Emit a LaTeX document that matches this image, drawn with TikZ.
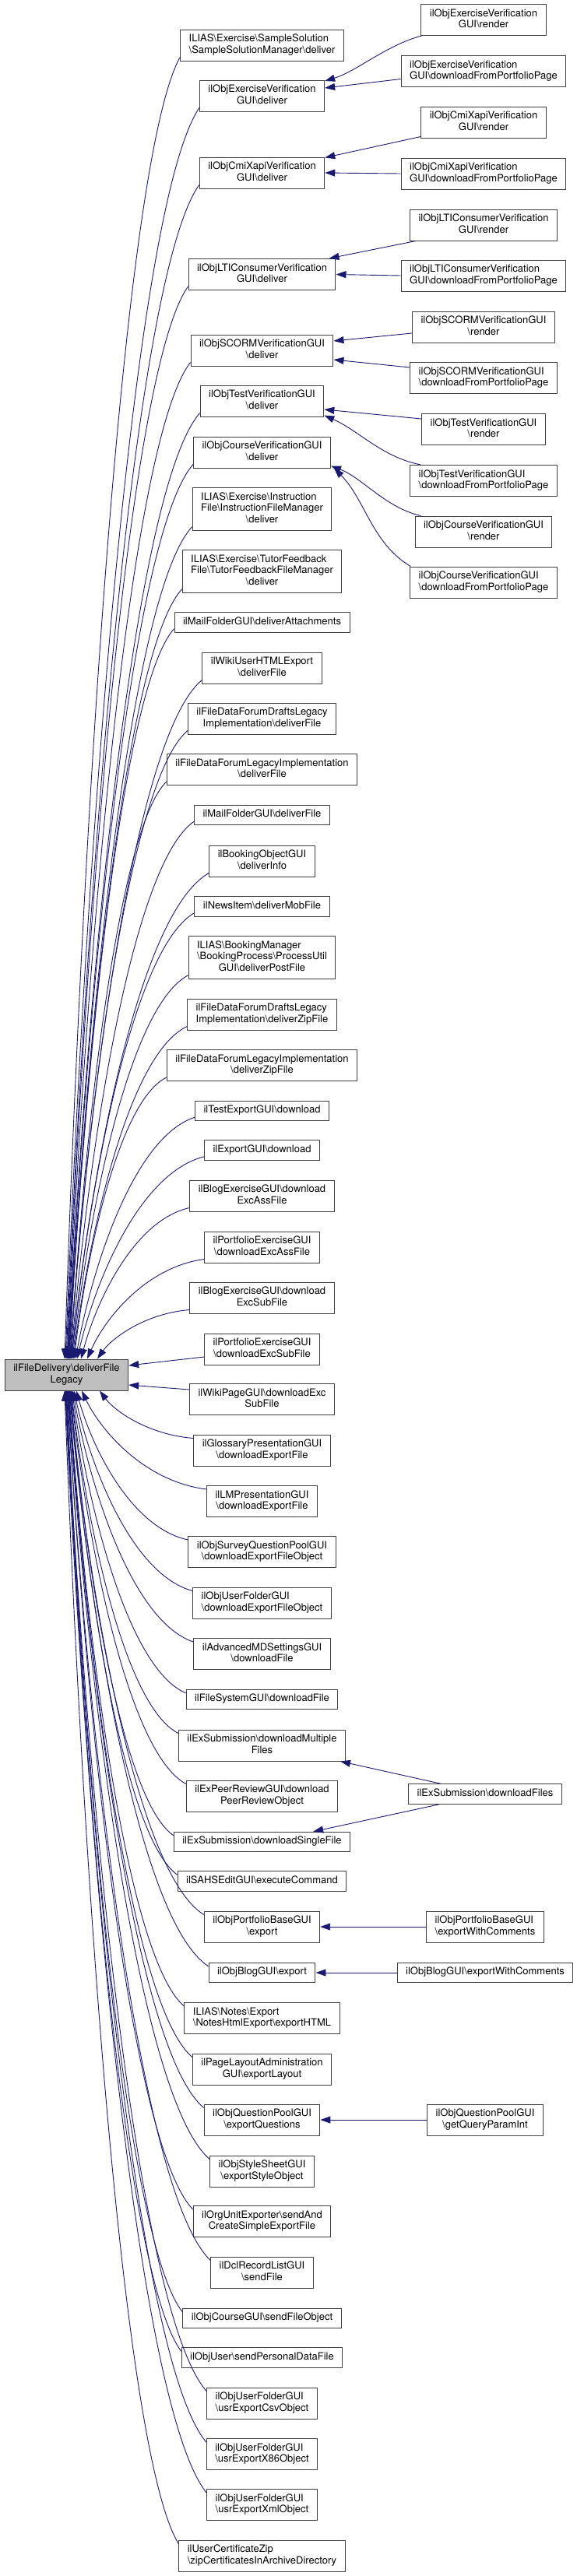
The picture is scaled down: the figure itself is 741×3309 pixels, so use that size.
\documentclass[tikz,border=0pt]{standalone}
\usepackage{fontspec}
\setmainfont{TeX Gyre Heros}
\usetikzlibrary{arrows.meta,calc}

\definecolor{edgeblue}{HTML}{191970}
\definecolor{boxline}{HTML}{404040}
\definecolor{rootfill}{HTML}{BFBFBF}

\newcommand{\bsl}{\textbackslash}
\newcommand{\onel}[1]{\begin{tabular}{@{}c@{}}#1\end{tabular}}
\newcommand{\twol}[2]{\begin{tabular}{@{}l@{}}#1\\\multicolumn{1}{@{}c@{}}{#2}\end{tabular}}
\newcommand{\threel}[3]{\begin{tabular}{@{}l@{}}#1\\#2\\\multicolumn{1}{@{}c@{}}{#3}\end{tabular}}

\tikzset{
  fnbox/.style={draw=boxline, line width=1pt, fill=white, inner xsep=11pt, inner ysep=5.5pt,
    font=\fontsize{13pt}{14.5pt}\selectfont},
  rootbox/.style={fnbox, fill=rootfill},
  callarrow/.style={draw=edgeblue, line width=0.9pt, -{Triangle[length=13pt,width=9pt]}}
}

% edge from a caller box down (or up) to the root box
\newcommand{\calledge}[2]{%
  \draw[callarrow] let \p1=(#1), \p2=(#2) in
    (\p1) .. controls ($(\p1)+({-0.5*(\x1-\x2)},{-0.08*(\y1-\y2)})$)
    and ($(\p2)+({0.15*(\x1-\x2)},{0.4*(\y1-\y2)})$) .. (\p2);}

\begin{document}
\begin{tikzpicture}[x=1pt,y=-1pt]
            \useasboundingbox (0,0) rectangle (741,3309);
            {

            % Marking root node
            \node[rootbox] (root) at (85.5,1766) {\twol{ilFileDelivery\bsl deliverFile}{Legacy}};%

            % Marking caller nodes, middle column
            \node[fnbox] (ss) at (336.5,58) {\twol{ILIAS\bsl Exercise\bsl SampleSolution}{\bsl SampleSolutionManager\bsl deliver}};%
            \node[fnbox] (exv) at (336.5,123) {\twol{ilObjExerciseVerification}{GUI\bsl deliver}};%
            \node[fnbox] (cmi) at (336.5,222) {\twol{ilObjCmiXapiVerification}{GUI\bsl deliver}};%
            \node[fnbox] (lti) at (336.5,352.5) {\twol{ilObjLTIConsumerVerification}{GUI\bsl deliver}};%
            \node[fnbox] (scorm) at (336.5,450) {\twol{ilObjSCORMVerificationGUI}{\bsl deliver}};%
            \node[fnbox] (test) at (336.5,515) {\twol{ilObjTestVerificationGUI}{\bsl deliver}};%
            \node[fnbox] (crs) at (336.5,581) {\twol{ilObjCourseVerificationGUI}{\bsl deliver}};%
            \node[fnbox] (instr) at (336.5,654) {\threel{ILIAS\bsl Exercise\bsl Instruction}{File\bsl InstructionFileManager}{\bsl deliver}};%
            \node[fnbox] (tutor) at (336.5,734) {\threel{ILIAS\bsl Exercise\bsl TutorFeedback}{File\bsl TutorFeedbackFileManager}{\bsl deliver}};%
            \node[fnbox] (mailatt) at (336.5,799.5) {\onel{ilMailFolderGUI\bsl deliverAttachments}};%
            \node[fnbox] (wikiexp) at (336.5,858) {\twol{ilWikiUserHTMLExport}{\bsl deliverFile}};%
            \node[fnbox] (fdraft) at (336.5,923) {\twol{ilFileDataForumDraftsLegacy}{Implementation\bsl deliverFile}};%
            \node[fnbox] (fleg) at (336.5,988.5) {\twol{ilFileDataForumLegacyImplementation}{\bsl deliverFile}};%
            \node[fnbox] (mailfile) at (336.5,1047) {\onel{ilMailFolderGUI\bsl deliverFile}};%
            \node[fnbox] (bookobj) at (336.5,1106) {\twol{ilBookingObjectGUI}{\bsl deliverInfo}};%
            \node[fnbox] (news) at (336.5,1164.5) {\onel{ilNewsItem\bsl deliverMobFile}};%
            \node[fnbox] (bookpost) at (336.5,1230) {\threel{ILIAS\bsl BookingManager}{\bsl BookingProcess\bsl ProcessUtil}{GUI\bsl deliverPostFile}};%
            \node[fnbox] (fdraftzip) at (336.5,1303) {\twol{ilFileDataForumDraftsLegacy}{Implementation\bsl deliverZipFile}};%
            \node[fnbox] (flegzip) at (336.5,1368.5) {\twol{ilFileDataForumLegacyImplementation}{\bsl deliverZipFile}};%
            \node[fnbox] (testexp) at (336.5,1427) {\onel{ilTestExportGUI\bsl download}};%
            \node[fnbox] (expgui) at (336.5,1477.5) {\onel{ilExportGUI\bsl download}};%
            \node[fnbox] (blogass) at (336.5,1536) {\twol{ilBlogExerciseGUI\bsl download}{ExcAssFile}};%
            \node[fnbox] (portass) at (336.5,1602) {\twol{ilPortfolioExerciseGUI}{\bsl downloadExcAssFile}};%
            \node[fnbox] (blogsub) at (336.5,1667) {\twol{ilBlogExerciseGUI\bsl download}{ExcSubFile}};%
            \node[fnbox] (portsub) at (336.5,1733) {\twol{ilPortfolioExerciseGUI}{\bsl downloadExcSubFile}};%
            \node[fnbox] (wikipage) at (336.5,1797.5) {\twol{ilWikiPageGUI\bsl downloadExc}{SubFile}};%
            \node[fnbox] (gloss) at (336.5,1863) {\twol{ilGlossaryPresentationGUI}{\bsl downloadExportFile}};%
            \node[fnbox] (lmpres) at (336.5,1928.5) {\twol{ilLMPresentationGUI}{\bsl downloadExportFile}};%
            \node[fnbox] (survey) at (336.5,1993.5) {\twol{ilObjSurveyQuestionPoolGUI}{\bsl downloadExportFileObject}};%
            \node[fnbox] (ufexp) at (336.5,2059) {\twol{ilObjUserFolderGUI}{\bsl downloadExportFileObject}};%
            \node[fnbox] (advmd) at (336.5,2124.5) {\twol{ilAdvancedMDSettingsGUI}{\bsl downloadFile}};%
            \node[fnbox] (fsys) at (336.5,2183) {\onel{ilFileSystemGUI\bsl downloadFile}};%
            \node[fnbox] (exmulti) at (336.5,2242) {\twol{ilExSubmission\bsl downloadMultiple}{Files}};%
            \node[fnbox] (expeer) at (336.5,2307) {\twol{ilExPeerReviewGUI\bsl download}{PeerReviewObject}};%
            \node[fnbox] (exsingle) at (336.5,2366) {\onel{ilExSubmission\bsl downloadSingleFile}};%
            \node[fnbox] (sahs) at (336.5,2416.5) {\onel{ilSAHSEditGUI\bsl executeCommand}};%
            \node[fnbox] (portbase) at (336.5,2475) {\twol{ilObjPortfolioBaseGUI}{\bsl export}};%
            \node[fnbox] (blog) at (336.5,2534) {\onel{ilObjBlogGUI\bsl export}};%
            \node[fnbox] (notes) at (336.5,2592.5) {\twol{ILIAS\bsl Notes\bsl Export}{\bsl NotesHtmlExport\bsl exportHTML}};%
            \node[fnbox] (pagelay) at (336.5,2658) {\twol{ilPageLayoutAdministration}{GUI\bsl exportLayout}};%
            \node[fnbox] (qpool) at (336.5,2723) {\twol{ilObjQuestionPoolGUI}{\bsl exportQuestions}};%
            \node[fnbox] (style) at (336.5,2789) {\twol{ilObjStyleSheetGUI}{\bsl exportStyleObject}};%
            \node[fnbox] (orgunit) at (336.5,2853.5) {\twol{ilOrgUnitExporter\bsl sendAnd}{CreateSimpleExportFile}};%
            \node[fnbox] (dcl) at (336.5,2919) {\twol{ilDclRecordListGUI}{\bsl sendFile}};%
            \node[fnbox] (crsgui) at (336.5,2978) {\onel{ilObjCourseGUI\bsl sendFileObject}};%
            \node[fnbox] (user) at (336.5,3028.5) {\onel{ilObjUser\bsl sendPersonalDataFile}};%
            \node[fnbox] (csv) at (336.5,3087) {\twol{ilObjUserFolderGUI}{\bsl usrExportCsvObject}};%
            \node[fnbox] (x86) at (336.5,3152.5) {\twol{ilObjUserFolderGUI}{\bsl usrExportX86Object}};%
            \node[fnbox] (xml) at (336.5,3217.5) {\twol{ilObjUserFolderGUI}{\bsl usrExportXmlObject}};%
            \node[fnbox] (cert) at (336.5,3283) {\twol{ilUserCertificateZip}{\bsl zipCertificatesInArchiveDirectory}};%

            % Marking caller nodes, right column
            \node[fnbox] (exvr) at (621,25.5) {\twol{ilObjExerciseVerification}{GUI\bsl render}};%
            \node[fnbox] (exvd) at (621,91.5) {\twol{ilObjExerciseVerification}{GUI\bsl downloadFromPortfolioPage}};%
            \node[fnbox] (cmir) at (621,157) {\twol{ilObjCmiXapiVerification}{GUI\bsl render}};%
            \node[fnbox] (cmid) at (621,223) {\twol{ilObjCmiXapiVerification}{GUI\bsl downloadFromPortfolioPage}};%
            \node[fnbox] (ltir) at (621,289) {\twol{ilObjLTIConsumerVerification}{GUI\bsl render}};%
            \node[fnbox] (ltid) at (621,354) {\twol{ilObjLTIConsumerVerification}{GUI\bsl downloadFromPortfolioPage}};%
            \node[fnbox] (scormr) at (621,420) {\twol{ilObjSCORMVerificationGUI}{\bsl render}};%
            \node[fnbox] (scormd) at (621,485.5) {\twol{ilObjSCORMVerificationGUI}{\bsl downloadFromPortfolioPage}};%
            \node[fnbox] (testr) at (621,551.5) {\twol{ilObjTestVerificationGUI}{\bsl render}};%
            \node[fnbox] (testd) at (621,617.5) {\twol{ilObjTestVerificationGUI}{\bsl downloadFromPortfolioPage}};%
            \node[fnbox] (crsr) at (621,683) {\twol{ilObjCourseVerificationGUI}{\bsl render}};%
            \node[fnbox] (crsd) at (621,748) {\twol{ilObjCourseVerificationGUI}{\bsl downloadFromPortfolioPage}};%
            \node[fnbox] (exfiles) at (623,2304.5) {\onel{ilExSubmission\bsl downloadFiles}};%
            \node[fnbox] (portwc) at (623,2475) {\twol{ilObjPortfolioBaseGUI}{\bsl exportWithComments}};%
            \node[fnbox] (blogwc) at (623,2534) {\onel{ilObjBlogGUI\bsl exportWithComments}};%
            \node[fnbox] (qpparam) at (623,2723) {\twol{ilObjQuestionPoolGUI}{\bsl getQueryParamInt}};%

            % Drawing edges right column -> middle column
            \draw[callarrow] ([xshift=1pt]exvr.south west) .. controls +(-45,12) and +(40,-12) .. ([yshift=-1.5pt]exv.north east);%
            \draw[callarrow] ([yshift=-10pt]exvd.west) -- ([yshift=10pt]exv.east);%
            \draw[callarrow] ([yshift=2pt]cmir.south west) -- ([yshift=-1pt]cmi.north east);%
            \draw[callarrow] (cmid.west) -- (cmi.east);%
            \draw[callarrow] ([xshift=8pt]ltir.south west) -- ([xshift=-9pt]lti.north east);%
            \draw[callarrow] (ltid.west) -- (lti.east);%
            \draw[callarrow] ([yshift=-8pt]scormr.west) -- ([yshift=12pt]scorm.east);%
            \draw[callarrow] ([yshift=13.5pt]scormd.west) -- ([yshift=-12pt]scorm.east);%
            \draw[callarrow] ([yshift=13.5pt]testr.west) -- ([yshift=-11pt]test.east);%
            \draw[callarrow] ([xshift=14pt]testd.north west) .. controls +(-50,-10) and +(45,20) .. ([yshift=2pt]test.south east);%
            \draw[callarrow] ([xshift=8pt]crsr.north west) .. controls +(-45,-10) and +(40,15) .. ([yshift=3pt]crs.south east);%
            \draw[callarrow] ([xshift=1pt]crsd.north west) .. controls +(-50,-30) and +(40,40) .. ([xshift=4pt]crs.south east);%
            \draw[callarrow] ([xshift=42pt]exfiles.north west) -- ([xshift=-7pt]exmulti.south east);%
            \draw[callarrow] ([xshift=40pt]exfiles.south west) -- ([xshift=-48pt]exsingle.north east);%
            \draw[callarrow] (portwc.west) -- (portbase.east);%
            \draw[callarrow] (blogwc.west) -- (blog.east);%
            \draw[callarrow] (qpparam.west) -- (qpool.east);%

            % Drawing edges middle column -> root, from above
            \calledge{[yshift=5pt]ss.south west}{[xshift=-2.5pt]root.north}%
            \calledge{[yshift=5pt]exv.south west}{[xshift=-1.5pt]root.north}%
            \calledge{[yshift=5pt]cmi.south west}{[xshift=-0.5pt]root.north}%
            \calledge{[yshift=5pt]lti.south west}{[xshift=0.5pt]root.north}%
            \calledge{[yshift=5pt]scorm.south west}{[xshift=1pt]root.north}%
            \calledge{[yshift=5pt]test.south west}{[xshift=1.5pt]root.north}%
            \calledge{[yshift=5pt]crs.south west}{[xshift=2pt]root.north}%
            \calledge{[yshift=5pt]instr.south west}{[xshift=2.5pt]root.north}%
            \calledge{[yshift=5pt]tutor.south west}{[xshift=3pt]root.north}%
            \calledge{[yshift=5pt]mailatt.south west}{[xshift=3.5pt]root.north}%
            \calledge{[yshift=5pt]wikiexp.south west}{[xshift=4pt]root.north}%
            \calledge{[yshift=5pt]fdraft.south west}{[xshift=4.5pt]root.north}%
            \calledge{[yshift=5pt]fleg.south west}{[xshift=5pt]root.north}%
            \calledge{[yshift=5pt]mailfile.south west}{[xshift=5.5pt]root.north}%
            \calledge{[yshift=5pt]bookobj.south west}{[xshift=6pt]root.north}%
            \calledge{[yshift=5pt]news.south west}{[xshift=6.5pt]root.north}%
            \calledge{[yshift=5pt]bookpost.south west}{[xshift=7.5pt]root.north}%
            \calledge{[yshift=5pt]fdraftzip.south west}{[xshift=8.5pt]root.north}%
            \calledge{[yshift=5pt]flegzip.south west}{[xshift=9.5pt]root.north}%
            \calledge{[yshift=5pt]testexp.south west}{[xshift=11.5pt]root.north}%
            \calledge{[yshift=5pt]expgui.south west}{[xshift=13.5pt]root.north}%
            \calledge{[yshift=5pt]blogass.south west}{[xshift=18.5pt]root.north}%
            \calledge{[yshift=5pt]portass.south west}{[xshift=26.5pt]root.north}%
            \calledge{[yshift=5pt]blogsub.south west}{[xshift=39.5pt]root.north}%
            \draw[callarrow] ([yshift=-10pt]portsub.west) -- ([yshift=12pt]root.east);%

            % Drawing edges middle column -> root, from below
            \draw[callarrow] ([yshift=12.5pt]wikipage.west) -- ([yshift=-13pt]root.east);%
            \calledge{[yshift=-5pt]gloss.north west}{[xshift=42.5pt]root.south}%
            \calledge{[yshift=-5pt]lmpres.north west}{[xshift=19.5pt]root.south}%
            \calledge{[yshift=-5pt]survey.north west}{[xshift=12.5pt]root.south}%
            \calledge{[yshift=-5pt]ufexp.north west}{[xshift=9.5pt]root.south}%
            \calledge{[yshift=-5pt]advmd.north west}{[xshift=8pt]root.south}%
            \calledge{[yshift=-5pt]fsys.north west}{[xshift=7pt]root.south}%
            \calledge{[yshift=-5pt]exmulti.north west}{[xshift=6pt]root.south}%
            \calledge{[yshift=-5pt]expeer.north west}{[xshift=5.5pt]root.south}%
            \calledge{[yshift=-5pt]exsingle.north west}{[xshift=5pt]root.south}%
            \calledge{[yshift=-5pt]sahs.north west}{[xshift=4.5pt]root.south}%
            \calledge{[yshift=-5pt]portbase.north west}{[xshift=4pt]root.south}%
            \calledge{[yshift=-5pt]blog.north west}{[xshift=3.5pt]root.south}%
            \calledge{[yshift=-5pt]notes.north west}{[xshift=3pt]root.south}%
            \calledge{[yshift=-5pt]pagelay.north west}{[xshift=2.5pt]root.south}%
            \calledge{[yshift=-5pt]qpool.north west}{[xshift=2pt]root.south}%
            \calledge{[yshift=-5pt]style.north west}{[xshift=1.5pt]root.south}%
            \calledge{[yshift=-5pt]orgunit.north west}{[xshift=1pt]root.south}%
            \calledge{[yshift=-5pt]dcl.north west}{[xshift=0.5pt]root.south}%
            \calledge{[yshift=-5pt]crsgui.north west}{[xshift=0pt]root.south}%
            \calledge{[yshift=-5pt]user.north west}{[xshift=-0.5pt]root.south}%
            \calledge{[yshift=-5pt]csv.north west}{[xshift=-1pt]root.south}%
            \calledge{[yshift=-5pt]x86.north west}{[xshift=-1.5pt]root.south}%
            \calledge{[yshift=-5pt]xml.north west}{[xshift=-2pt]root.south}%
            \calledge{[yshift=-5pt]cert.north west}{[xshift=-2.5pt]root.south}%
            }
\end{tikzpicture}
\end{document}
